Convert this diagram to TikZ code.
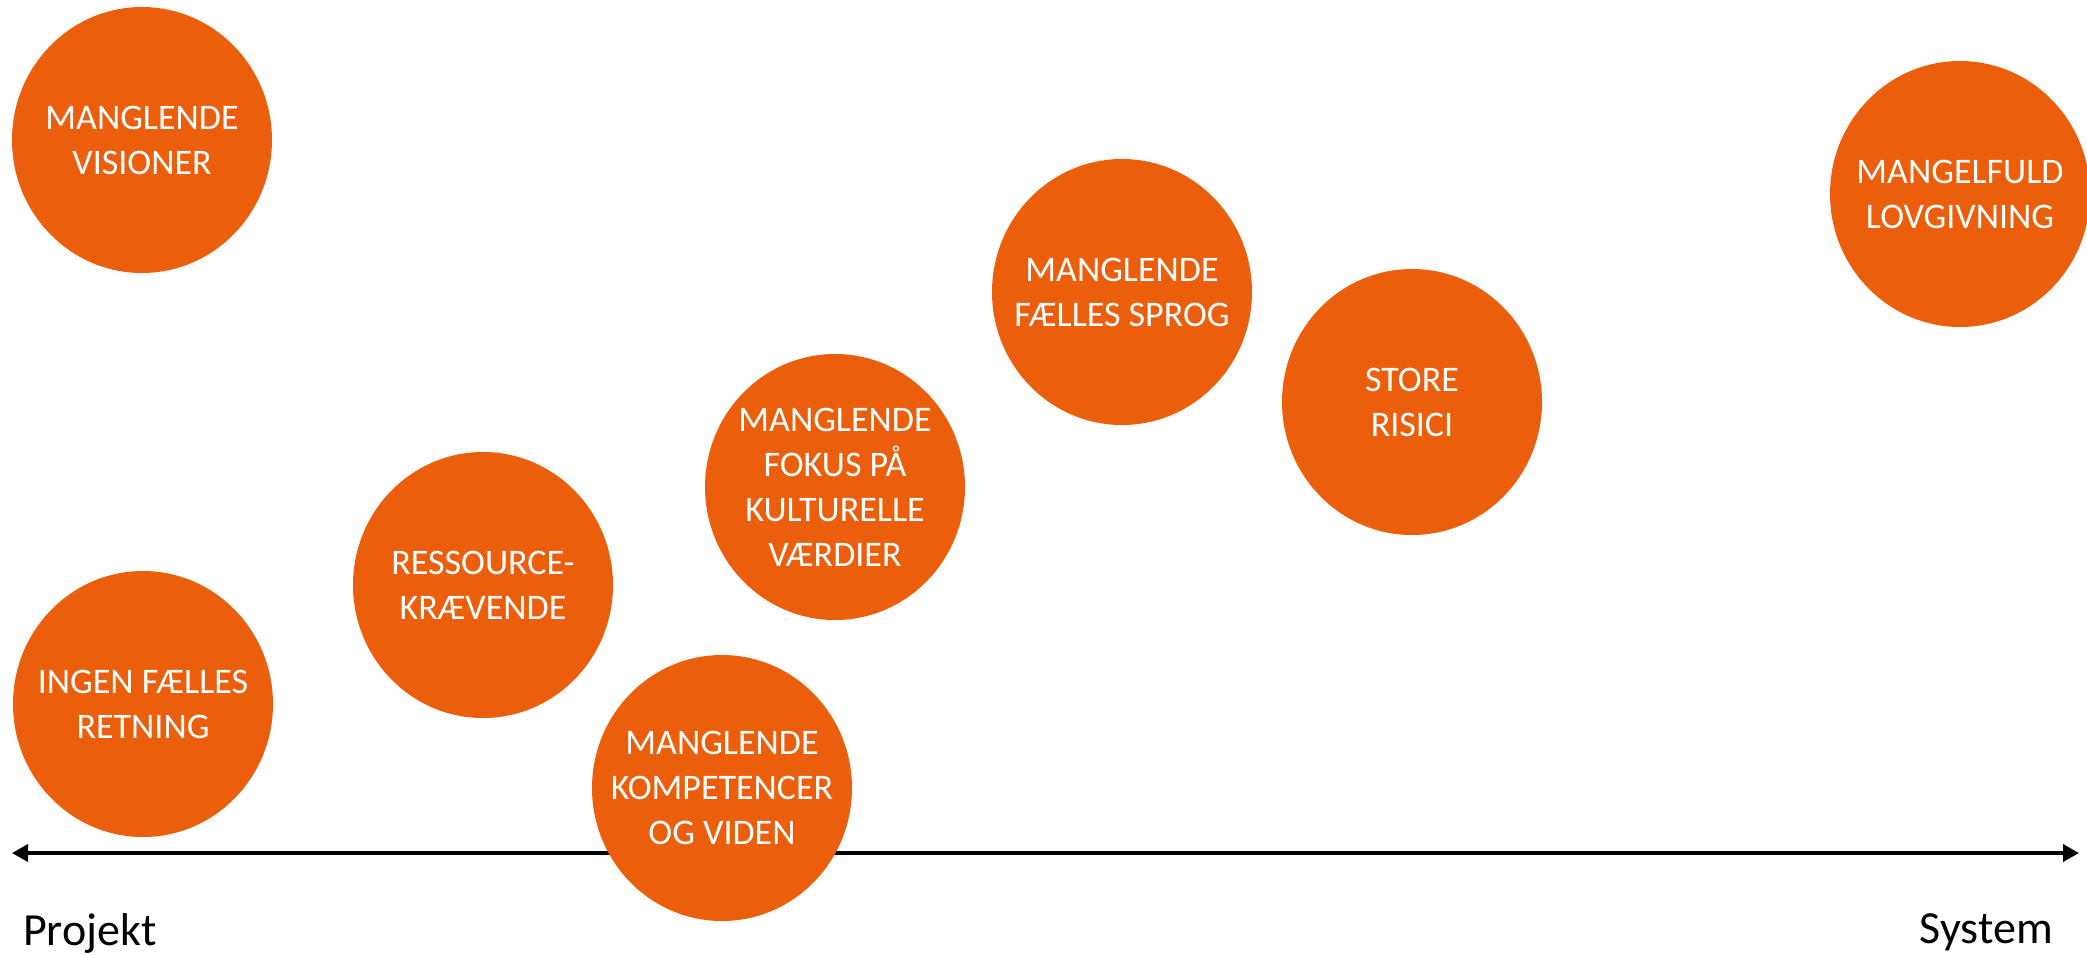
\documentclass[tikz,border=0pt]{standalone}
\usepackage{fontspec}
\setmainfont{Carlito}
\usetikzlibrary{shapes.geometric,arrows.meta}
\definecolor{blobor}{RGB}{234,94,12}
\tikzset{
  blob/.style={ellipse, fill=blobor, draw=none, minimum width=260pt, minimum height=266pt, inner sep=0pt},
  bloblbl/.style={text=white, align=center, inner sep=0pt, font=\fontsize{36}{45}\selectfont},
  axislbl/.style={text=black, inner sep=0pt, font=\fontsize{46}{55}\selectfont},
  axisline/.style={line width=3.5pt, {Triangle[length=16pt,width=17pt]}-{Triangle[length=16pt,width=17pt]}}
}
\begin{document}
\begin{tikzpicture}[x=1pt,y=-1pt]
\useasboundingbox (0,0) rectangle (2087,954);
% axis
\coordinate (axL) at (12,853);
\coordinate (axR) at (2079,853);
\draw[axisline] (axL) -- (axR);
% circles
\node[blob] (c1) at (142,140) {};
\node[bloblbl] (t1) at (c1) {MANGLENDE\\VISIONER};
\node[blob] (c2) at (143,704) {};
\node[bloblbl] (t2) at (c2) {INGEN FÆLLES\\RETNING};
\node[blob] (c3) at (483,585) {};
\node[bloblbl] (t3) at (c3) {RESSOURCE-\\KRÆVENDE};
\node[blob] (c4) at (722,788) {};
\node[bloblbl] (t4) at (c4) {MANGLENDE\\KOMPETENCER\\OG VIDEN};
\node[blob] (c5) at (835,487) {};
\node[bloblbl] (t5) at (c5) {MANGLENDE\\FOKUS PÅ\\KULTURELLE\\VÆRDIER};
\node[blob] (c6) at (1122,292) {};
\node[bloblbl] (t6) at (c6) {MANGLENDE\\FÆLLES SPROG};
\node[blob] (c7) at (1412,402) {};
\node[bloblbl] (t7) at (c7) {STORE\\RISICI};
\node[blob] (c8) at (1960,194) {};
\node[bloblbl] (t8) at (c8) {MANGELFULD\\LOVGIVNING};
% axis labels
\node[axislbl, anchor=base west] (pl) at (23,945) {Projekt};
\node[axislbl, anchor=base east] (sl) at (2053,943) {System};
\end{tikzpicture}
\end{document}
